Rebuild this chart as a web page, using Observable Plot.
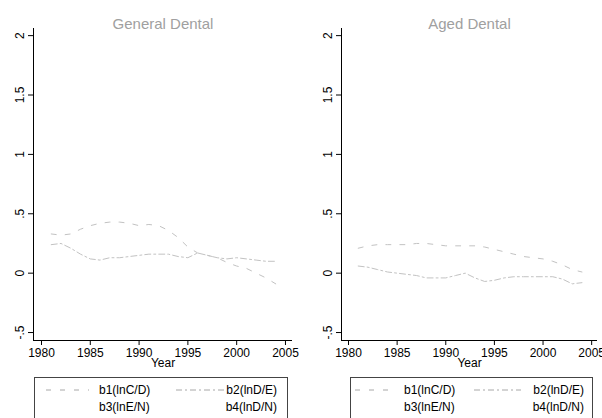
<!DOCTYPE html>
<html>
<head>
<meta charset="utf-8">
<script src="https://cdn.jsdelivr.net/npm/d3@7"></script>
<script src="https://cdn.jsdelivr.net/npm/@observablehq/plot@0.6"></script>
<style>
  html, body { margin: 0; padding: 0; background: #fff; }
  #root { position: relative; width: 602px; height: 418px; overflow: hidden; font-family: "Liberation Sans", Arial, sans-serif; }
  .panel { position: absolute; top: 0; }
  .legend { position: absolute; top: 377px; height: 50px; border: 1px solid #444; box-sizing: border-box; }
  .legend span { position: absolute; font-size: 12px; color: #000; line-height: 14px; white-space: nowrap; }
  .legend svg { position: absolute; overflow: visible; }
</style>
</head>
<body>
<div id="root"></div>
<script>
// ---- data ----
const years = [1981,1982,1983,1984,1985,1986,1987,1988,1989,1990,1991,1992,1993,1994,1995,1996,1997,1998,1999,2000,2001,2002,2003,2004];
const generalB1 = [0.33,0.32,0.33,0.37,0.40,0.42,0.43,0.43,0.42,0.40,0.41,0.40,0.36,0.30,0.22,0.17,0.15,0.13,0.09,0.06,0.04,0.00,-0.04,-0.09];
const generalB2 = [0.24,0.25,0.21,0.16,0.12,0.11,0.13,0.13,0.14,0.15,0.16,0.16,0.16,0.14,0.13,0.17,0.15,0.13,0.12,0.13,0.12,0.11,0.10,0.10];
const agedB1 = [0.21,0.23,0.24,0.24,0.24,0.24,0.25,0.25,0.24,0.23,0.23,0.23,0.23,0.22,0.20,0.18,0.16,0.14,0.13,0.12,0.10,0.07,0.03,0.01];
const agedB2 = [0.06,0.05,0.03,0.01,0.00,-0.01,-0.02,-0.04,-0.04,-0.04,-0.02,0.00,-0.04,-0.07,-0.06,-0.04,-0.03,-0.03,-0.03,-0.03,-0.03,-0.05,-0.09,-0.08];
const xTicks = [1980,1985,1990,1995,2000,2005];
const yTicks = [-0.5,0,0.5,1,1.5,2];
const titles = ["General Dental","Aged Dental"];
const seriesLabels = ["b1(lnC/D)","b2(lnD/E)","b3(lnE/N)","b4(lnD/N)"];

const yDomain = [-0.567, 2.06];
const fmt = d => d === 0 ? "0" : String(d).replace(/^(-?)0\./, "$1.");
const dash1 = "5,9";
const dash2 = "6,3,2,3";
const lineColor = "#c2c2c2";

function panel({b1, b2, title, xDomain, width, marginLeft, marginRight}) {
  const d1 = years.map((y, i) => ({year: y, v: b1[i]}));
  const d2 = years.map((y, i) => ({year: y, v: b2[i]}));
  return Plot.plot({
    width, height: 370, marginLeft, marginRight, marginTop: 28, marginBottom: 30,
    x: {domain: xDomain},
    y: {domain: yDomain},
    style: {fontFamily: "'Liberation Sans', Arial, sans-serif", fontSize: "12px", color: "#000", background: "transparent"},
    marks: [
      Plot.line(d1, {x: "year", y: "v", stroke: lineColor, strokeWidth: 1, strokeDasharray: dash1}),
      Plot.line(d2, {x: "year", y: "v", stroke: lineColor, strokeWidth: 1, strokeDasharray: dash2}),
      Plot.ruleX([xDomain[0]], {stroke: "#000"}),
      Plot.ruleY([yDomain[0]], {stroke: "#000"}),
      Plot.axisX({ticks: xTicks, tickSize: 5, tickPadding: 3, tickFormat: d => String(d), fontSize: 12, label: null}),
      Plot.axisY({ticks: yTicks, tickSize: 5, tickFormat: () => "", label: null}),
      Plot.text(yTicks, {y: d => d, frameAnchor: "left", dx: -13, rotate: -90, text: fmt, textAnchor: "middle", fontSize: 12}),
      Plot.text([title], {frameAnchor: "top", dy: -10, fontSize: 15, fill: "#a0a0a0"}),
      Plot.text(["Year"], {frameAnchor: "bottom", dy: 26, fontSize: 12})
    ]
  });
}

const root = document.getElementById("root");
const cfgs = [
  {b1: generalB1, b2: generalB2, title: titles[0], xDomain: [1979.18, 2005.72], width: 301, marginLeft: 33, marginRight: 9, left: 0,
   legend: {x: 34, w: 254, s1: [11, 54], t1: 64, s2: [141, 191], tEnd: 10}},
  {b1: agedB1, b2: agedB2, title: titles[1], xDomain: [1979.28, 2005.6], width: 302, marginLeft: 41, marginRight: 5, left: 300,
   legend: {x: 350, w: 243, s1: [4, 40], t1: 53, s2: [123, 170], tEnd: 8}}
];

function sample(x0, x1, top, dash) {
  const ns = "http://www.w3.org/2000/svg";
  const svg = document.createElementNS(ns, "svg");
  svg.setAttribute("width", x1 - x0);
  svg.setAttribute("height", 4);
  svg.style.left = x0 + "px";
  svg.style.top = top + "px";
  const ln = document.createElementNS(ns, "line");
  ln.setAttribute("x1", 0); ln.setAttribute("x2", x1 - x0);
  ln.setAttribute("y1", 2); ln.setAttribute("y2", 2);
  ln.setAttribute("stroke", "#a8a8a8");
  ln.setAttribute("stroke-width", 1);
  ln.setAttribute("stroke-dasharray", dash);
  svg.appendChild(ln);
  return svg;
}

for (const c of cfgs) {
  const div = document.createElement("div");
  div.className = "panel";
  div.style.left = c.left + "px";
  div.appendChild(panel(c));
  root.appendChild(div);

  const lg = document.createElement("div");
  lg.className = "legend";
  lg.style.left = c.legend.x + "px";
  lg.style.width = c.legend.w + "px";
  lg.appendChild(sample(c.legend.s1[0], c.legend.s1[1], 10, dash1));
  lg.appendChild(sample(c.legend.s2[0], c.legend.s2[1], 10, dash2));
  const pos = [
    {left: c.legend.t1, top: 5}, {right: c.legend.tEnd, top: 5},
    {left: c.legend.t1, top: 22}, {right: c.legend.tEnd, top: 22}
  ];
  seriesLabels.forEach((t, i) => {
    const s = document.createElement("span");
    s.textContent = t;
    if (pos[i].left !== undefined) s.style.left = pos[i].left + "px";
    else s.style.right = pos[i].right + "px";
    s.style.top = pos[i].top + "px";
    lg.appendChild(s);
  });
  root.appendChild(lg);
}
</script>
</body>
</html>
